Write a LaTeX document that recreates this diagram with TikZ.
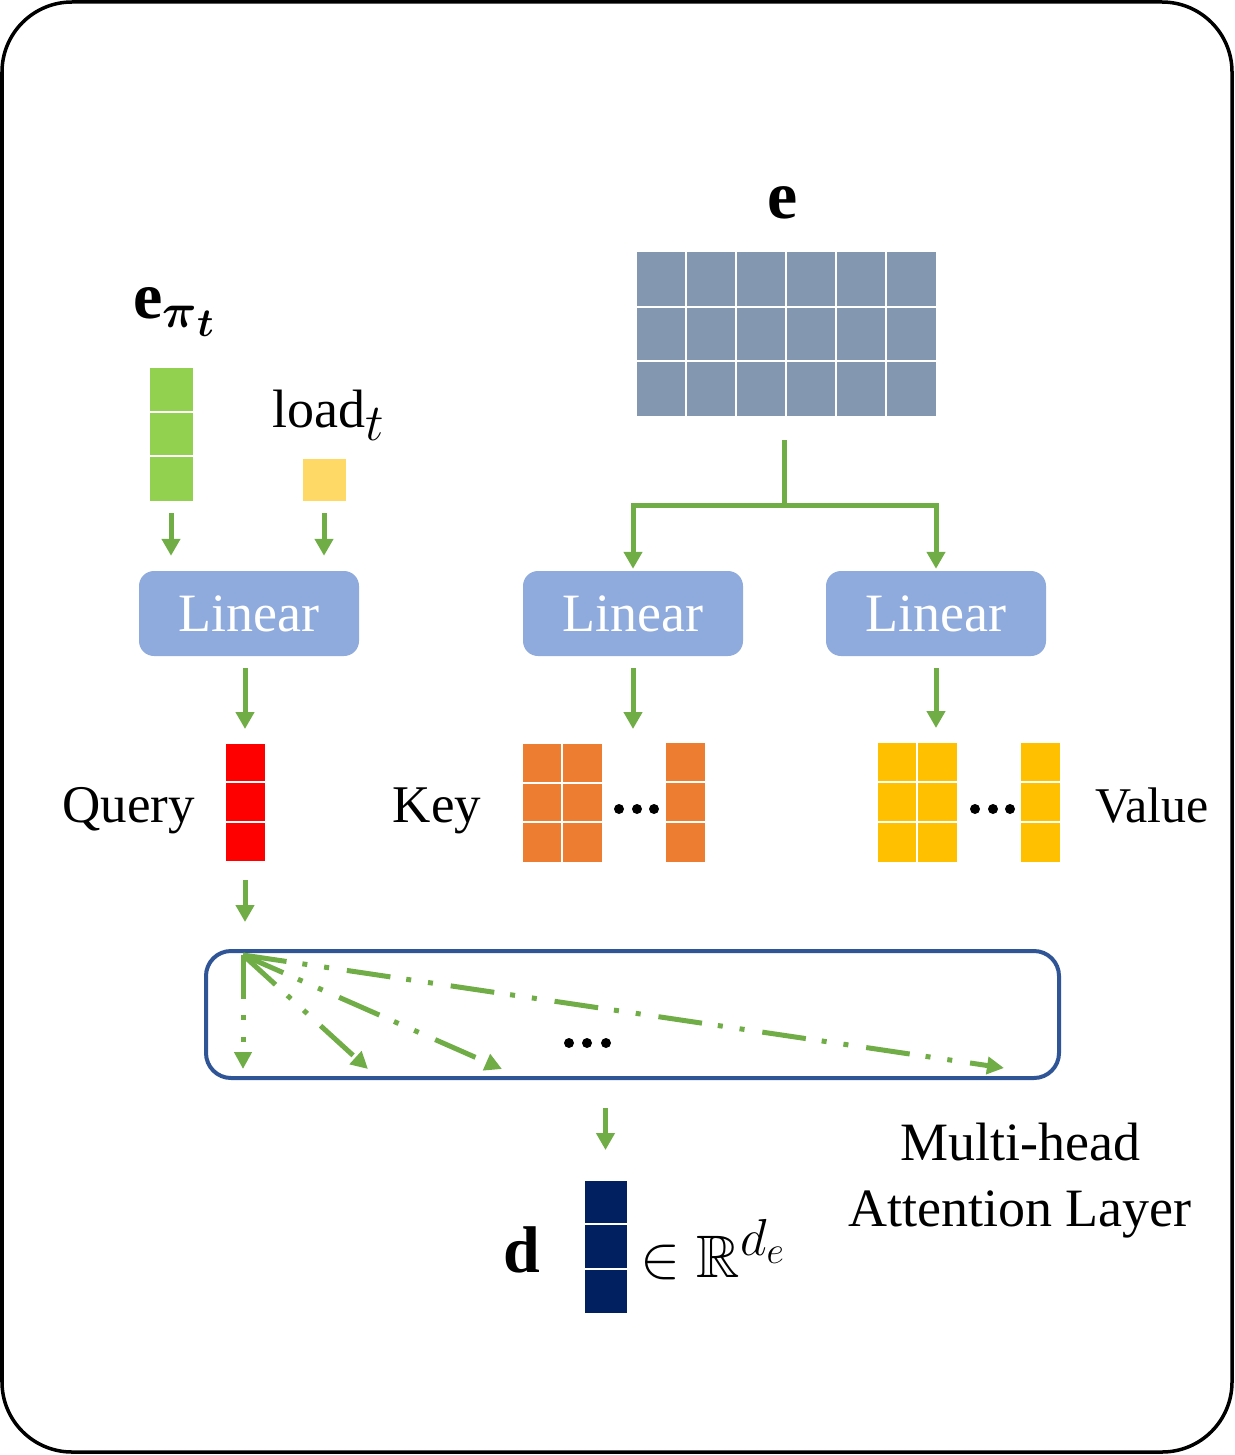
\RequirePackage{fix-cm}
\documentclass[tikz,border=0pt]{standalone}
\usepackage{amsmath,amssymb}
\usepackage{fontspec}
\setmainfont{Liberation Serif}
\usetikzlibrary{arrows.meta,calc}
\definecolor{agreen}{HTML}{70AD47}
\definecolor{vgreen}{HTML}{92D050}
\definecolor{vyellow}{HTML}{FFD966}
\definecolor{egray}{HTML}{8497B0}
\definecolor{linblue}{HTML}{8FAADC}
\definecolor{qred}{HTML}{FF0000}
\definecolor{korange}{HTML}{ED7D31}
\definecolor{vgold}{HTML}{FFC000}
\definecolor{dnavy}{HTML}{002060}
\definecolor{attblue}{HTML}{2F5597}
\newcommand\cellgrid[3]{%
  \pgfmathtruncatemacro\cgc{#2-1}%
  \pgfmathtruncatemacro\cgr{#3-1}%
  \ifnum\cgc>0
    \foreach \k in {1,...,\cgc}{\draw[cellline] ($(#1.north west)!\k/#2!(#1.north east)$) -- ($(#1.south west)!\k/#2!(#1.south east)$);}%
  \fi
  \ifnum\cgr>0
    \foreach \k in {1,...,\cgr}{\draw[cellline] ($(#1.north west)!\k/#3!(#1.south west)$) -- ($(#1.north east)!\k/#3!(#1.south east)$);}%
  \fi
}
\newcommand\sz[2]{\mbox{\fontsize{#1}{#1}\selectfont$#2$}}
\begin{document}
\begin{tikzpicture}[x=1pt,y=-1pt,
  garrow/.style={draw=agreen, line width=5pt, -{Triangle[length=17pt,width=18pt]}},
  gline/.style={draw=agreen, line width=5pt},
  attarrow/.style={draw=agreen, line width=5pt, dash pattern=on 44pt off 16pt on 5pt off 17pt on 5pt off 18pt, -{Triangle[length=17pt,width=17pt]}},
  vecbox/.style={draw=white, line width=1pt, inner sep=0pt, outer sep=0pt},
  cellline/.style={white, line width=1.8pt},
  linbox/.style={fill=linblue, rounded corners=15pt, minimum width=220pt, minimum height=85pt, inner sep=0pt, text=white, font=\fontsize{54}{60}\selectfont},
  lbl/.style={font=\fontsize{53}{60}\selectfont, inner sep=0pt},
  dotc/.style={fill=black}]
\useasboundingbox (0,0) rectangle (1234,1455);
\draw[line width=3.5pt, rounded corners=70pt] (2,2) rectangle (1232,1452);

% labels top
\node[inner sep=0pt, anchor=base, font=\fontsize{68}{70}\selectfont] (elab) at (783,219) {\textbf{e}};
\node[inner sep=0pt, anchor=base west, font=\fontsize{66}{70}\selectfont] (epilab) at (133,318) {\textbf{e}$_{\sz{48}{\boldsymbol{\pi}_{\sz{40}{\boldsymbol{t}}}}}$};
\node[inner sep=0pt, anchor=base west, font=\fontsize{54}{60}\selectfont] (loadlab) at (272,427) {load$_{\sz{52}{t}}$};

% input vectors
\node[vecbox, fill=vgreen, minimum width=44pt, minimum height=134pt] (ept) at (171,434) {};
\cellgrid{ept}{1}{3}
\node[vecbox, fill=vyellow, minimum width=44pt, minimum height=43pt] (ldv) at (324,479.5) {};
\node[vecbox, fill=egray, minimum width=300pt, minimum height=164pt] (emat) at (786,334) {};
\cellgrid{emat}{6}{3}

% linear boxes
\node[linbox] (lin1) at (249,613.5) {Linear};
\node[linbox] (lin2) at (633,613.5) {Linear};
\node[linbox] (lin3) at (936,613.5) {Linear};

% arrows into linear
\draw[garrow, shorten <=12pt, shorten >=15pt] (ept.south) -- (ept.south |- lin1.north);
\draw[garrow, shorten <=12pt, shorten >=15pt] (ldv.south) -- (ldv.south |- lin1.north);
\coordinate (split) at (784,505);
\draw[gline, shorten <=24pt] (emat.south -| split) -- (split);
\draw[garrow, shorten >=2pt, line join=miter] (split) -| (lin2.north);
\draw[garrow, shorten >=2pt, line join=miter] (split) -| (lin3.north);

% Query, Key, Value
\node[vecbox, fill=qred, minimum width=40pt, minimum height=118pt] (q) at (245,802) {};
\cellgrid{q}{1}{3}
\node[vecbox, fill=korange, minimum width=80pt, minimum height=119pt] (keyA) at (562,802.5) {};
\cellgrid{keyA}{2}{3}
\node[vecbox, fill=korange, minimum width=40pt, minimum height=120pt] (keyB) at (685,802) {};
\cellgrid{keyB}{1}{3}
\node[vecbox, fill=vgold, minimum width=80pt, minimum height=120pt] (valA) at (917,802) {};
\cellgrid{valA}{2}{3}
\node[vecbox, fill=vgold, minimum width=40pt, minimum height=120pt] (valB) at (1040,802) {};
\cellgrid{valB}{1}{3}
\foreach \x in {619,637,654} \fill[dotc] (\x,809) circle (5pt);
\foreach \x in {975,993,1010} \fill[dotc] (\x,809) circle (5pt);

\node[lbl, anchor=base] (qlab) at (128.5,822) {Query};
\node[lbl, anchor=base] (klab) at (437,822) {Key};
\node[lbl, anchor=base, font=\fontsize{50}{60}\selectfont] (vlab) at (1152,822) {Value};

\draw[garrow, shorten <=12pt, shorten >=14pt] (q.north |- lin1.south) -- (q.north);
\draw[garrow, shorten <=12pt, shorten >=14pt] (lin2.south) -- (lin2.south |- keyA.north);
\draw[garrow, shorten <=12pt, shorten >=14pt] (lin3.south) -- (lin3.south |- valA.north);

% attention box
\node[draw=attblue, line width=4pt, rounded corners=25pt, minimum width=853pt, minimum height=127pt, inner sep=0pt] (att) at (632.5,1014.5) {};
\draw[garrow, shorten <=19pt, shorten >=27pt] (q.south) -- (q.south |- att.north);
\coordinate (o) at (243,955);
\coordinate (t1) at (243,1069);
\coordinate (t2) at (368,1069);
\coordinate (t3) at (502,1069);
\coordinate (t4) at (1004,1068);
\draw[attarrow] (o) -- (t1);
\draw[attarrow] (o) -- (t2);
\draw[attarrow] (o) -- (t3);
\draw[attarrow] (o) -- (t4);
\foreach \x in {569,587,606} \fill[dotc] (\x,1043) circle (5pt);

% output
\node[vecbox, fill=dnavy, minimum width=43pt, minimum height=133pt] (d) at (605.5,1246.5) {};
\cellgrid{d}{1}{3}
\draw[garrow, shorten <=28pt, shorten >=30pt] (d.north |- att.south) -- (d.north);
\node[inner sep=0pt, anchor=base, font=\fontsize{66}{70}\selectfont] (dlab) at (522,1272) {\textbf{d}};
\node[inner sep=0pt, anchor=base west, font=\fontsize{60}{64}\selectfont] (rlab) at (640,1277) {$\in\mathbb{R}^{\sz{52}{d_{\sz{38}{e}}}}$};

\node[inner sep=0pt, align=center, font=\fontsize{54}{66}\selectfont] (mlab) at (1020,1181) {Multi-head\\Attention Layer};
\end{tikzpicture}
\end{document}
